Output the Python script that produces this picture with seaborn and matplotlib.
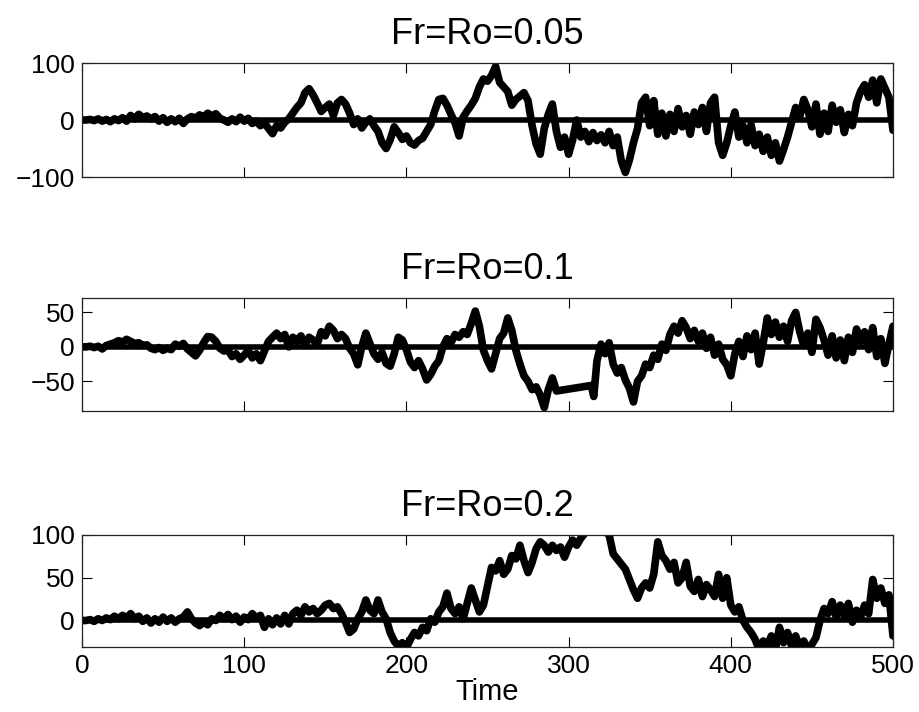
import numpy as np
import pandas as pd
import matplotlib
matplotlib.use("Agg")
import matplotlib.pyplot as plt
import seaborn as sns

titles = ["Fr=Ro=0.05", "Fr=Ro=0.1", "Fr=Ro=0.2"]

time_grid = [i * 2.5 for i in range(201)]

vals_005 = [0, 0, 1, -1, 2, -2, 1, -3, 2, -1, 4, -2, 8, 2, 10, 4, 7, 2, 6, -2,
            4, -4, 2, -3, 3, -6, 2, 6, 3, 9, 5, 12, 7, 11, 3, 0, -4, 2, -3, 5,
            -2, 3, -6, -2, -10, -5, -15, -24, -10, -14, -4, 2, 12, 22, 30, 48, 55, 44, 30, 15,
            22, 28, 8, 30, 36, 28, 12, -8, 2, -14, -4, 2, -10, -20, -40, -50, -35, -12, -22, -34,
            -28, -40, -44, -36, -32, -20, -8, 16, 36, 38, 26, 10, -5, -28, 5, 16, 26, 38, 58, 72,
            68, 78, 94, 66, 58, 50, 26, 36, 42, 48, 34, -10, -42, -60, -15, 10, 28, -20, -48, -30,
            -60, -35, 0, -30, -20, -38, -22, -36, -26, -40, -20, -45, -30, -72, -92, -70, -40, -15, 30, 40,
            -10, 34, -25, 12, -28, 10, -20, 20, -12, 8, -25, 14, -8, 22, -20, 30, 40, -40, -62, -40,
            -10, 14, -30, -10, -40, -8, -45, -25, -55, -30, -62, -40, -72, -52, -30, -4, 22, 6, 36, 18,
            -12, 28, -25, 12, -20, 26, -4, 18, -22, 10, -10, 30, 50, 62, 40, 70, 30, 72, 56, 40,
            -18]

time_01 = [t for t in time_grid if t <= 292.5] + [314.0, 315.5] + [t for t in time_grid if t >= 317.5]
vals_01 = [0, 0, 1, -1, 1, -3, 2, 4, 6, 9, 7, 11, 8, 5, 6, 2, 3, -2, -4, -1,
           -5, -2, -4, 4, 1, 5, -3, -8, -13, -5, 6, 15, 14, 8, -2, -6, -4, -14, -10, -18,
           -12, -5, -16, -10, -20, -6, 8, 14, 20, 12, 18, 0, 14, 8, 16, 2, 14, 10, 4, 22,
           16, 30, 24, 12, 18, 12, -2, -10, -26, 0, 20, 5, -10, -18, -8, -24, -28, -10, 14, 10,
           -4, -22, -30, -20, -32, -48, -40, -28, -20, 0, 12, 6, 18, 14, 22, 18, 34, 52, 30, -5,
           -20, -32, -10, 12, 20, 42, 24, -5, -25, -42, -50, -62, -58, -70, -88, -62, -45, -64,
           -56, -72,
           -20, 4, -10, 6, -25, -38, -30, -48, -60, -80, -50, -42, -25, -30, -12, -18, 4, -5, 18,
           30, 20, 38, 28, 12, 24, 8, 20, -2, 14, -12, 4, -18, -26, -42, -10, 8, -14, 16, -4,
           20, -25, 6, 42, 18, 36, 14, 30, 8, 38, 50, 22, 2, 20, -8, 40, 28, 10, -12, 16,
           -16, 10, -20, 14, -8, 26, 8, 22, -4, 28, -14, 12, -24, 4, 30]

vals_02 = [0, 0, 1, -1, 2, 0, 3, 1, 5, 2, 6, 3, 8, 2, 5, -1, 3, -3, 2, -2,
           4, -1, 3, -2, 2, 4, 10, 2, -3, -6, -2, -5, 2, 0, 6, 2, 7, 1, 5, -2,
           4, 1, 8, 3, 6, -8, 2, -5, 3, -4, 6, -4, 8, 12, 6, 16, 10, 14, 8, 12,
           18, 20, 14, 16, 8, -2, -14, -10, 2, 10, 24, 12, 8, 24, 10, 2, -14, -24, -30, -26,
           -32, -22, -14, -18, -8, -12, 2, -2, 10, 16, 32, 14, 8, 16, 2, 20, 38, 24, 10, 18,
           40, 62, 58, 70, 54, 60, 76, 72, 88, 70, 56, 68, 84, 92, 88, 80, 88, 82, 86, 74,
           86, 94, 88, 96, 102, 110, 115, 112, 108, 104, 100, 78, 72, 66, 60, 48, 36, 26, 38, 44,
           38, 54, 92, 76, 70, 60, 68, 44, 50, 68, 40, 34, 48, 28, 42, 36, 28, 54, 26, 50,
           18, 10, 16, 0, -8, -14, -22, -34, -24, -30, -18, -34, -8, -26, -14, -30, -18, -32, -24, -34,
           -28, -20, 0, 14, 8, 22, 4, 18, 6, 20, -2, 12, 4, 18, 8, 48, 26, 38, 20, 30,
           -18]

series = [(time_grid, vals_005), (time_01, vals_01), (time_grid, vals_02)]
ylims = [(-100, 100), (-93, 71), (-31, 100)]
yticks = [[-100, 0, 100], [-50, 0, 50], [0, 50, 100]]
xticks = [0, 100, 200, 300, 400, 500]

sns.set_style("ticks")
plt.rcParams["font.family"] = ["Liberation Sans", "DejaVu Sans"]
plt.rcParams["text.color"] = "black"
plt.rcParams["xtick.color"] = "black"
plt.rcParams["ytick.color"] = "black"
plt.rcParams["axes.labelcolor"] = "black"

fig = plt.figure(figsize=(9.19, 7.12), dpi=100)
positions = [(0.0892, 0.7514, 0.8825, 0.1601),
             (0.0892, 0.4228, 0.8825, 0.1587),
             (0.0892, 0.0913, 0.8825, 0.1573)]

for i, (pos, (tt, vv)) in enumerate(zip(positions, series)):
    ax = fig.add_axes(pos)
    df = pd.DataFrame({"Time": tt, "value": vv})
    zero = pd.DataFrame({"Time": [0, 500], "value": [0, 0]})
    sns.lineplot(data=zero, x="Time", y="value", ax=ax, color="black",
                 linewidth=4.0, estimator=None)
    sns.lineplot(data=df, x="Time", y="value", ax=ax, color="black",
                 linewidth=5.5, estimator=None, sort=False)
    ax.set_xlim(0, 500)
    ax.set_ylim(*ylims[i])
    ax.set_xticks(xticks)
    ax.set_yticks(yticks[i])
    ax.tick_params(direction="in", length=7, width=0.8, top=True, right=True,
                   labelsize=19, pad=5, colors="black")
    for s in ax.spines.values():
        s.set_visible(True)
        s.set_linewidth(0.9)
        s.set_color("#222222")
    ax.set_title(titles[i], fontsize=26, pad=14, color="black")
    ax.set_ylabel("")
    if i < 2:
        ax.set_xlabel("")
        ax.set_xticklabels([])
    else:
        ax.set_xlabel("Time", fontsize=21, labelpad=0, color="black")

fig.savefig("out.png", dpi=100)
